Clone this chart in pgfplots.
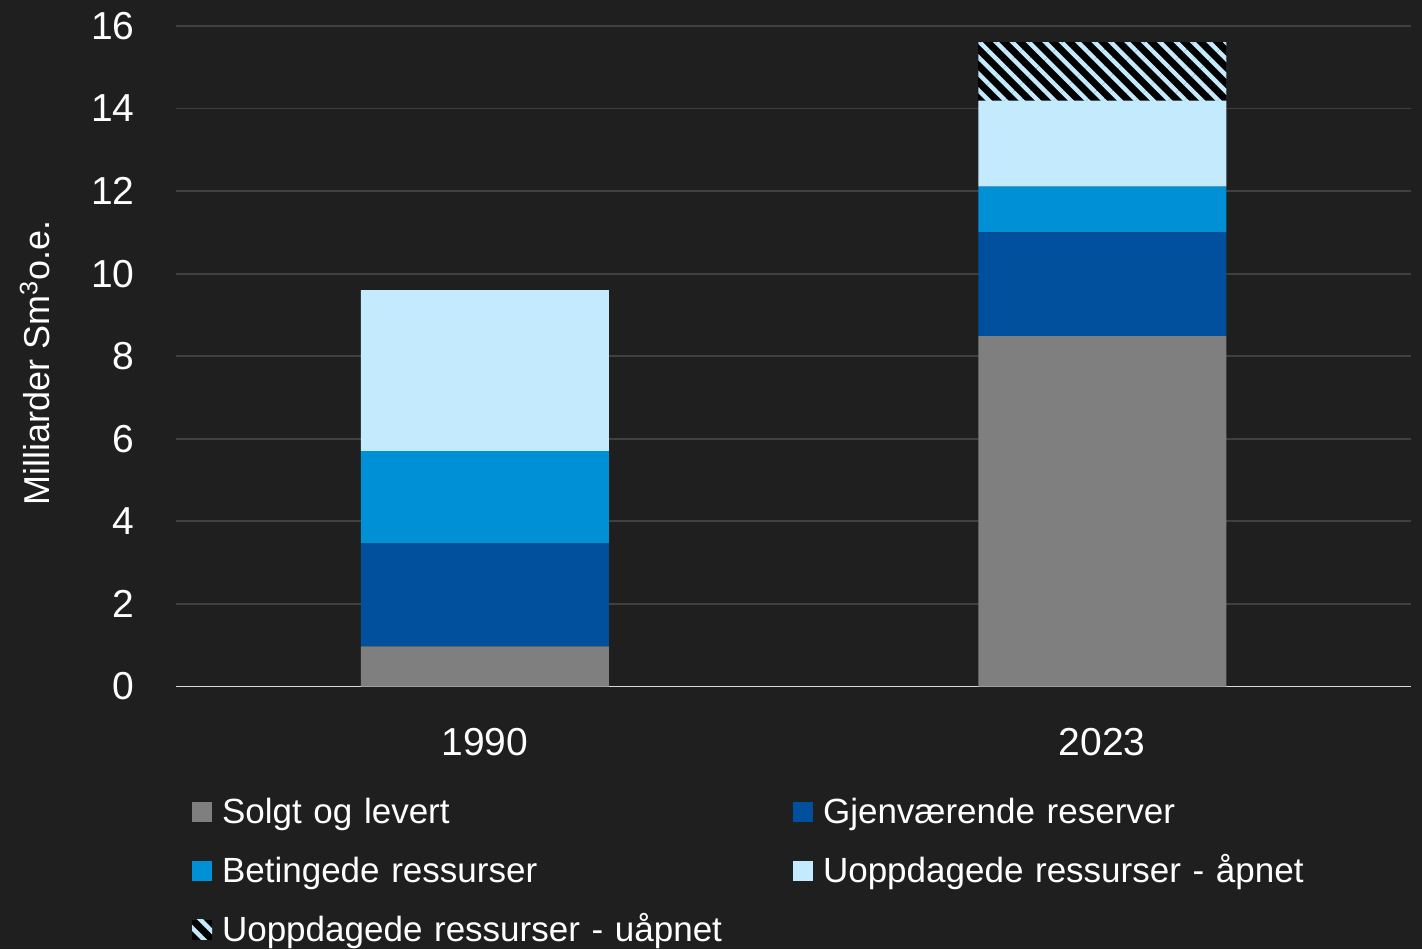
\documentclass[border=0pt]{standalone}
\usepackage{fontspec}
\setmainfont{Liberation Sans}
\usepackage{pgfplots}
\pgfplotsset{compat=1.18}
\usetikzlibrary{patterns.meta,backgrounds}
\definecolor{bg}{HTML}{1F1F1F}
\definecolor{cGray}{HTML}{7F7F7F}
\definecolor{cDark}{HTML}{00509E}
\definecolor{cMid}{HTML}{0090D6}
\definecolor{cLight}{HTML}{C3EBFD}
\definecolor{gridc}{HTML}{404040}
\definecolor{basec}{HTML}{D9D9D9}
\begin{document}
\begin{tikzpicture}
\begin{axis}[name=ax, scale only axis, width=617.5pt, height=330.25pt,
  ybar stacked, bar width=124pt,
  xmin=-0.5, xmax=1.5, ymin=0, ymax=16,
  xtick={0,1}, xticklabels={1990,2023},
  ytick={0,2,...,16},
  axis line style={draw=none}, major tick length=0pt,
  ymajorgrids, grid style={gridc, line width=0.9pt},
  tick label style={font=\fontsize{19.5}{23}\selectfont, text=white},
  /pgf/number format/assume math mode=true,
  yticklabel style={anchor=east, inner sep=0pt, xshift=-20.5pt},
  xticklabel style={anchor=north, inner sep=0pt, yshift=-20.5pt},
  every axis y label/.style={at={(axis description cs:-0.1142,0.49)}, rotate=90, anchor=center, font=\fontsize{18}{21}\selectfont, text=white},
  ylabel={Milliarder Sm\textsuperscript{3}o.e.},
  legend columns=2,
  legend cell align=left,
  legend image code/.code={\fill[#1] (0pt,-3.5pt) rectangle (10pt,6.5pt);},
  legend style={draw=none, fill=none, text=white, inner sep=0pt, outer sep=0pt,
    font=\fontsize{17.5}{21}\selectfont,
    at={(axis description cs:0.013,-0.1685)}, anchor=north west,
    nodes={inner sep=0pt, text height=13pt, text depth=4pt},
    row sep=12.5pt,
    /tikz/every odd column/.append style={column sep=5pt},
    /tikz/every even column/.append style={text width=285.5pt}},
]
\addplot[fill=cGray, draw=none] coordinates {(0,0.97) (1,8.49)};
\addlegendentry{Solgt og levert}
\addplot[fill=cDark, draw=none] coordinates {(0,2.50) (1,2.51)};
\addlegendentry{Gjenværende reserver}
\addplot[fill=cMid, draw=none] coordinates {(0,2.23) (1,1.11)};
\addlegendentry{Betingede ressurser}
\addplot[fill=cLight, draw=none] coordinates {(0,3.90) (1,2.08)};
\addlegendentry{Uoppdagede ressurser - åpnet}
\addplot[fill=black, draw=none, postaction={pattern={Lines[angle=-45,distance=5.8pt,line width=2.2pt]}, pattern color=cLight}] coordinates {(0,0) (1,1.42)};
\addlegendentry{Uoppdagede ressurser - uåpnet}
\draw[basec, line width=1pt] (axis cs:-0.5,0) -- (axis cs:1.5,0);
\end{axis}
\begin{scope}[on background layer]
\fill[bg] ([shift={(-88pt,-131.25pt)}]ax.south west) rectangle ([shift={(623pt,343.25pt)}]ax.south west);
\end{scope}
\pgfresetboundingbox
\path[use as bounding box] ([shift={(-88pt,-131.25pt)}]ax.south west) rectangle ([shift={(623pt,343.25pt)}]ax.south west);
\end{tikzpicture}
\end{document}
